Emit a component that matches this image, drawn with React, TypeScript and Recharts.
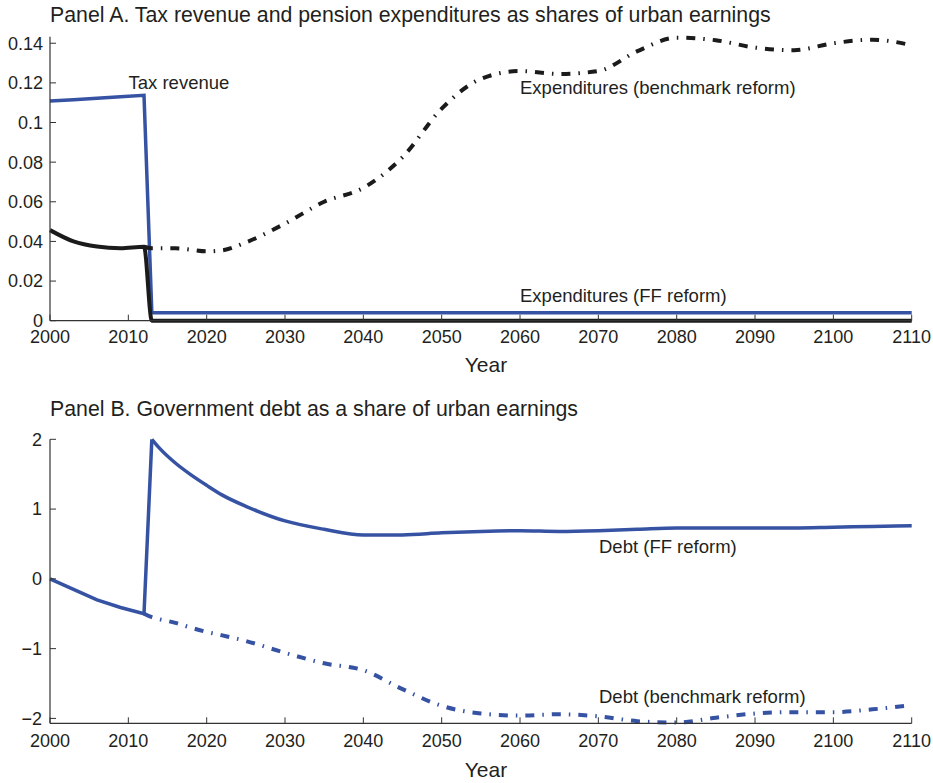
import { LineChart, Line, XAxis, YAxis } from 'recharts'

const FONT = '"Liberation Sans", Arial, Helvetica, sans-serif'
const INK = '#231f20'
const BLUE = '#3652a3'
const BLACK = '#1b1b1b'
const DASH_DOT = '9 8 1.5 8'

const YEARS = [2000, 2003, 2006, 2009, 2012, 2013, 2014, 2016, 2018, 2020, 2022, 2025, 2030, 2035, 2040, 2045, 2050, 2055, 2060, 2065, 2070, 2075, 2080, 2085, 2090, 2095, 2100, 2105, 2110]
const X_TICKS = [2000, 2010, 2020, 2030, 2040, 2050, 2060, 2070, 2080, 2090, 2100, 2110]

// Panel A
const TAX_REVENUE = [0.1108, 0.1115, 0.1122, 0.113, 0.1137, 0.004, 0.004, 0.004, 0.004, 0.004, 0.004, 0.004, 0.004, 0.004, 0.004, 0.004, 0.004, 0.004, 0.004, 0.004, 0.004, 0.004, 0.004, 0.004, 0.004, 0.004, 0.004, 0.004, 0.004]
const EXP_FF = [0.0457, 0.04, 0.0374, 0.0366, 0.0373, 0, 0, 0, 0, 0, 0, 0, 0, 0, 0, 0, 0, 0, 0, 0, 0, 0, 0, 0, 0, 0, 0, 0, 0]
const EXP_BENCH = [null, null, null, null, 0.0373, 0.0365, 0.0365, 0.0365, 0.0358, 0.035, 0.0355, 0.0395, 0.049, 0.06, 0.067, 0.0825, 0.107, 0.122, 0.126, 0.1245, 0.126, 0.136, 0.1428, 0.1415, 0.1378, 0.1365, 0.14, 0.1418, 0.139]
const Y_TICKS_A = [0, 0.02, 0.04, 0.06, 0.08, 0.1, 0.12, 0.14]

// Panel B (FF debt split at the 2013 jump so the peak stays sharp)
const DEBT_FF_PRE = [0, -0.15, -0.3, -0.41, -0.5, 2.0, null, null, null, null, null, null, null, null, null, null, null, null, null, null, null, null, null, null, null, null, null, null, null]
const DEBT_FF_POST = [null, null, null, null, null, 2.0, 1.87, 1.66, 1.49, 1.34, 1.2, 1.04, 0.83, 0.71, 0.63, 0.63, 0.66, 0.68, 0.69, 0.68, 0.69, 0.71, 0.73, 0.73, 0.73, 0.73, 0.74, 0.75, 0.76]
const DEBT_BENCH = [null, null, null, null, -0.5, -0.55, -0.58, -0.63, -0.7, -0.76, -0.81, -0.89, -1.06, -1.21, -1.31, -1.58, -1.82, -1.93, -1.96, -1.94, -1.97, -2.04, -2.06, -1.99, -1.93, -1.91, -1.91, -1.87, -1.81]
const Y_TICKS_B = [-2, -1, 0, 1, 2]

const dataA = YEARS.map((year, i) => ({ year, tax: TAX_REVENUE[i], ff: EXP_FF[i], bench: EXP_BENCH[i] }))
const dataB = YEARS.map((year, i) => ({ year, ffPre: DEBT_FF_PRE[i], ffPost: DEBT_FF_POST[i], bench: DEBT_BENCH[i] }))

const tickStyle = { fill: INK, fontSize: 18, fontFamily: FONT }
const axisLine = { stroke: '#333', strokeWidth: 1.2 }

function xAxis(margin: number) {
    return (
        <XAxis
            dataKey="year"
            type="number"
            domain={[2000, 2110]}
            ticks={X_TICKS}
            height={40}
            tickSize={-6}
            tickMargin={margin}
            tick={tickStyle}
            axisLine={axisLine}
            tickLine={{ stroke: '#333' }}
        />
    )
}

export default function App() {
    return (
        <div style={{ position: 'absolute', left: 0, top: 0, width: 933, height: 783, background: '#fff', fontFamily: FONT }}>
            <div style={{ position: 'absolute', left: 0, top: 0 }}>
                <LineChart width={933} height={390} data={dataA} margin={{ top: 36.7, right: 21.3, left: 0, bottom: 29.3 }}>
                    {xAxis(15.5)}
                    <YAxis
                        type="number"
                        domain={[0, 0.1433]}
                        ticks={Y_TICKS_A}
                        width={50}
                        tickSize={-6}
                        tickMargin={13}
                        tick={tickStyle}
                        axisLine={axisLine}
                        tickLine={{ stroke: '#333' }}
                    />
                    <Line dataKey="tax" type="linear" stroke={BLUE} strokeWidth={3.5} dot={false} isAnimationActive={false} />
                    <Line dataKey="ff" type="monotone" stroke={BLACK} strokeWidth={4} dot={false} isAnimationActive={false} />
                    <Line dataKey="bench" type="monotone" stroke={BLACK} strokeWidth={4} strokeDasharray={DASH_DOT} dot={false} isAnimationActive={false} />
                </LineChart>
            </div>
            <div style={{ position: 'absolute', left: 0, top: 390 }}>
                <LineChart width={933} height={393} data={dataB} margin={{ top: 49.3, right: 21.3, left: 0, bottom: 19.7 }}>
                    {xAxis(17)}
                    <YAxis
                        type="number"
                        domain={[-2.07, 2]}
                        ticks={Y_TICKS_B}
                        width={50}
                        tickSize={-6}
                        tickMargin={14}
                        tick={tickStyle}
                        tickFormatter={(v: number) => String(v).replace('-', '\u2212')}
                        axisLine={axisLine}
                        tickLine={{ stroke: '#333' }}
                    />
                    <Line dataKey="ffPre" type="linear" stroke={BLUE} strokeWidth={3.5} dot={false} strokeLinejoin="miter" isAnimationActive={false} />
                    <Line dataKey="ffPost" type="monotone" stroke={BLUE} strokeWidth={3.5} dot={false} isAnimationActive={false} />
                    <Line dataKey="bench" type="monotone" stroke={BLUE} strokeWidth={4} strokeDasharray={DASH_DOT} dot={false} isAnimationActive={false} />
                </LineChart>
            </div>
            <svg width={933} height={783} style={{ position: 'absolute', left: 0, top: 0, pointerEvents: 'none' }}>
                <g fill={INK} fontFamily={FONT}>
                    <text x={50} y={21.7} fontSize={21.3}>Panel A. Tax revenue and pension expenditures as shares of urban earnings</text>
                    <text x={486} y={372} fontSize={21} textAnchor="middle">Year</text>
                    <text x={128.5} y={89.3} fontSize={18.5}>Tax revenue</text>
                    <text x={520} y={94} fontSize={18.5}>Expenditures (benchmark reform)</text>
                    <text x={520} y={301.7} fontSize={18.5}>Expenditures (FF reform)</text>
                    <text x={50} y={416} fontSize={21.3}>Panel B. Government debt as a share of urban earnings</text>
                    <text x={599} y={553.3} fontSize={18.5}>Debt (FF reform)</text>
                    <text x={599} y={703.3} fontSize={18.5}>Debt (benchmark reform)</text>
                    <text x={486} y={777} fontSize={21} textAnchor="middle">Year</text>
                </g>
            </svg>
        </div>
    )
}
